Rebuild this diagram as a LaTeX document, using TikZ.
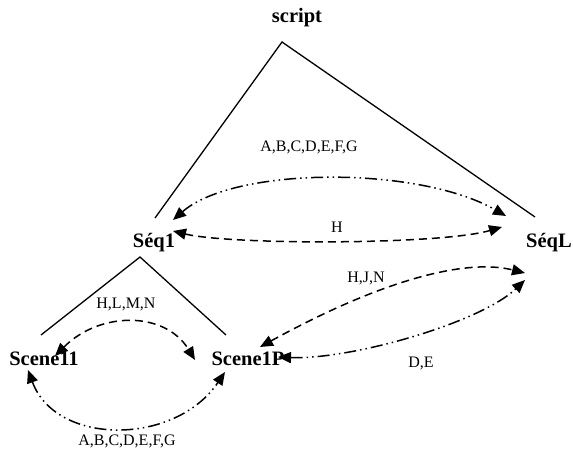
\documentclass[tikz,border=0pt]{standalone}
\usepackage{fontspec}
\setmainfont{Liberation Serif}
\usetikzlibrary{arrows.meta}
\begin{document}
\begin{tikzpicture}[x=1pt,y=1pt,
  title/.style={font=\bfseries\fontsize{20.5}{24}\selectfont, inner sep=0pt, anchor=base},
  tag/.style={font=\fontsize{16}{19}\selectfont, inner sep=0pt, anchor=base},
  branch/.style={line width=1.3pt},
  link/.style={line width=1.5pt, {Triangle[length=13pt,width=11pt]}-{Triangle[length=13pt,width=11pt]}},
  linkdash/.style={link, dash pattern=on 8pt off 5pt},
  linkdots/.style={link, dash pattern=on 12pt off 4pt on 1.5pt off 4pt on 1.5pt off 4pt}]
\useasboundingbox (0,0) rectangle (573,448);

% hierarchy labels
\node[title] (script)  at (297,425) {script};
\node[title] (seq1)    at (154,201) {Séq1};
\node[title] (seqL)    at (549,201) {SéqL};
\node[title] (scene11) at (44,83)   {Scene11};
\node[title] (scene1p) at (248,83) {Scene1P};

% tree branches
\coordinate (topapex) at (282,406);
\coordinate (topl) at (155,230);
\coordinate (topr) at (535,231);
\draw[branch] (topl) -- (topapex) -- (topr);
\coordinate (subapex) at (140,191);
\coordinate (subl) at (41,113);
\coordinate (subr) at (226,113);
\draw[branch] (subl) -- (subapex) -- (subr);

% arrow end points next to the labels
\coordinate (s1a) at (173,228);
\coordinate (sLa) at (506,232);
\coordinate (s1b) at (173,217);
\coordinate (sLb) at (502,221);
\coordinate (c11a) at (55,92);
\coordinate (c1pa) at (195,88);
\coordinate (c11b) at (28,78);
\coordinate (c1pb) at (225,76);
\coordinate (c1pc) at (260,101);
\coordinate (sLc) at (525,175);
\coordinate (c1pd) at (278,91);
\coordinate (sLd) at (525,168);

% exchanges between the parts
\draw[linkdots] (s1a) .. controls (235,282) and (419,282) .. (sLa);
\draw[linkdash] (s1b) .. controls (230,203) and (440,203) .. (sLb);
\draw[linkdash] (c11a) .. controls (100,137) and (165,137) .. (c1pa);
\draw[linkdots] (c11b) .. controls (56,2) and (175,2) .. (c1pb);
\draw[linkdash] (c1pc) .. controls (380,167) and (465,190) .. (sLc);
\draw[linkdots] (c1pd) .. controls (350,88) and (480,125) .. (sLd);

% exchanged items
\node[tag] (lblTop)  at (309,296) {A,B,C,D,E,F,G};
\node[tag] (lblH)    at (337,216) {H};
\node[tag] (lblSub)  at (126,140) {H,L,M,N};
\node[tag] (lblBot)  at (127,3)   {A,B,C,D,E,F,G};
\node[tag] (lblHJN)  at (366,166) {H,J,N};
\node[tag] (lblDE)   at (421,81)  {D,E};
\end{tikzpicture}
\end{document}
